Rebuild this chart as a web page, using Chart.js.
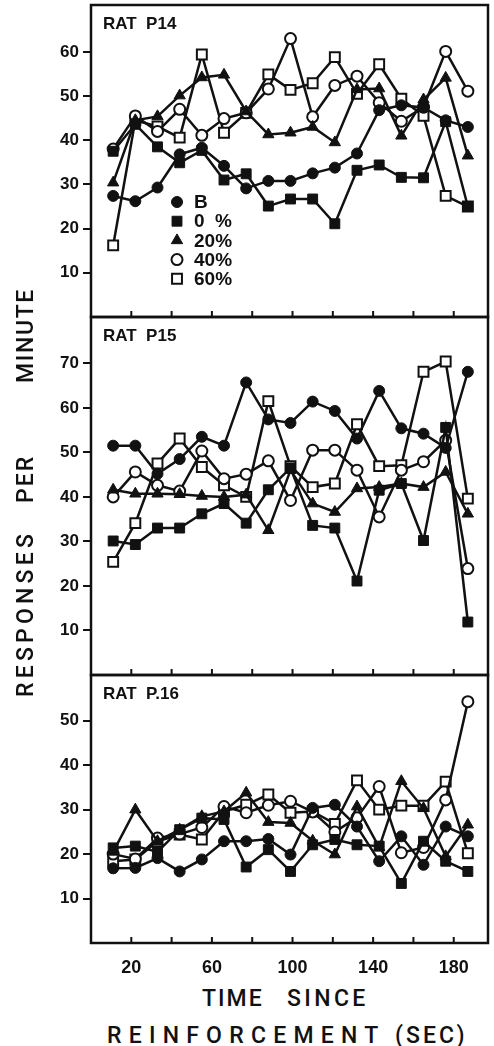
<!DOCTYPE html>
<html>
<head>
<meta charset="utf-8">
<script src="https://cdn.jsdelivr.net/npm/chart.js@4.4.1/dist/chart.umd.min.js"></script>
<style>
  html, body { margin:0; padding:0; background:#fff; }
  #wrap { position:relative; width:494px; height:1046px; overflow:hidden; }
  canvas { position:absolute; left:0; }
  .t { position:absolute; font-family:Roboto, "Liberation Sans", sans-serif; font-weight:500;
       font-size:23px; line-height:30px; color:#111; white-space:pre; }
  #ytitle { position:absolute; left:-204px; top:477px; width:460px; height:30px; transform:rotate(-90deg); }
</style>
</head>
<body>
<div id="wrap">
  <canvas id="p14" width="494" height="322" style="top:0px"></canvas>
  <canvas id="p15" width="494" height="368" style="top:312px"></canvas>
  <canvas id="p16" width="494" height="310" style="top:670px"></canvas>

  <div id="ytitle">
    <span class="t fit" data-w="167" style="left:25px;top:0">RESPONSES</span>
    <span class="t fit" data-w="48" style="left:219px;top:0">PER</span>
    <span class="t fit" data-w="95" style="left:339px;top:0">MINUTE</span>
  </div>
  <span class="t fit" data-w="62" style="left:202px;top:984px">TIME</span>
  <span class="t fit" data-w="82" style="left:287px;top:984px">SINCE</span>
  <span class="t fit" data-w="278" style="left:107px;top:1021px">REINFORCEMENT</span>
  <span class="t fit" data-w="73" style="left:395px;top:1021px">(SEC)</span>
</div>

<script>
/* ---------------------------
   Data
   --------------------------- */
const xSeconds = [11, 22, 33, 44, 55, 66, 77, 88, 99, 110, 121, 132, 143, 154, 165, 176, 187];
const legendLabels = ['B', '0  %', '20%', '40%', '60%'];

const xTickMarks = [20, 40, 60, 80, 100, 120, 140, 160, 180];
const xTickLabels = [20, 60, 100, 140, 180];
const p14Ticks = [10, 20, 30, 40, 50, 60];
const p15Ticks = [10, 20, 30, 40, 50, 60, 70];
const p16Ticks = [10, 20, 30, 40, 50];

// RAT P14
const p14B      = [27.4, 26.2, 29.3, 36.8, 38.3, 34.2, 29.1, 30.8, 30.8, 32.5, 33.8, 37.0, 46.8, 47.9, 47.4, 44.5, 43.0];
const p14Zero   = [37.5, 43.6, 38.5, 34.9, 37.7, 31.0, 32.4, 25.1, 26.7, 26.7, 21.1, 33.2, 34.4, 31.6, 31.5, 44.2, 25.0];
const p14Twenty = [30.4, 44.5, 45.4, 50.1, 54.2, 54.8, 46.5, 41.3, 41.7, 43.0, 39.5, 51.5, 51.7, 41.0, 49.2, 54.1, 36.5];
const p14Forty  = [38.0, 45.5, 42.0, 47.0, 41.1, 44.9, 46.2, 51.6, 63.0, 45.3, 52.4, 54.5, 48.5, 44.3, 47.5, 60.1, 51.1];
const p14Sixty  = [16.2, 44.5, 43.1, 40.6, 59.4, 41.7, 46.2, 54.9, 51.4, 52.9, 58.8, 50.5, 57.2, 49.4, 45.5, 27.4, 25.0];

// RAT P15
const p15B      = [51.5, 51.5, 45.2, 48.5, 53.5, 51.5, 65.7, 57.4, 56.6, 61.4, 59.3, 53.1, 63.8, 55.4, 54.2, 51.0, 68.1];
const p15Zero   = [30.1, 29.3, 33.0, 33.0, 36.2, 38.5, 34.1, 41.6, 46.5, 33.6, 33.0, 21.1, 41.5, 43.0, 30.2, 55.6, 11.9];
const p15Twenty = [41.6, 40.7, 40.7, 40.6, 40.2, 40.0, 40.5, 32.5, 46.0, 38.5, 36.6, 41.9, 42.2, 43.0, 42.2, 45.6, 36.2];
const p15Forty  = [40.0, 45.6, 42.6, 41.3, 50.3, 44.1, 45.1, 48.1, 39.2, 50.5, 50.5, 46.0, 35.5, 46.0, 47.9, 52.7, 23.9];
const p15Sixty  = [25.4, 34.1, 47.5, 53.1, 46.7, 42.6, 40.0, 61.5, 46.9, 42.2, 43.0, 56.3, 46.9, 47.1, 68.1, 70.4, 39.6];

// RAT P.16
const p16B      = [16.8, 16.9, 19.1, 16.1, 18.8, 22.9, 22.9, 23.4, 19.9, 30.4, 31.1, 26.2, 18.4, 24.0, 17.6, 26.2, 24.0];
const p16Zero   = [21.4, 21.8, 20.5, 25.5, 28.1, 27.8, 17.1, 21.0, 16.1, 22.1, 23.3, 22.1, 21.8, 13.4, 22.9, 18.4, 16.1];
const p16Twenty = [20.5, 30.0, 22.9, 25.5, 28.5, 29.6, 33.8, 27.2, 27.0, 23.0, 19.9, 30.7, 21.5, 36.4, 30.3, 19.5, 26.6];
const p16Forty  = [20.0, 18.9, 23.6, 24.5, 26.0, 30.7, 29.3, 31.0, 31.9, 29.5, 25.0, 28.2, 35.2, 20.3, 21.5, 32.2, 54.3];
const p16Sixty  = [18.4, 18.8, 22.9, 24.4, 23.3, 29.6, 31.1, 33.4, 29.3, 29.6, 26.8, 36.6, 30.0, 30.9, 30.9, 36.3, 20.2];

/* ---------------------------
   Styles
   --------------------------- */
const INK = '#111';
const markers = [
  { pointStyle:'circle',   radius:5.5, fill:INK,    border:1 },
  { pointStyle:'rect',     radius:7,   fill:INK,    border:1 },
  { pointStyle:'triangle', radius:6.5, fill:INK,    border:1 },
  { pointStyle:'circle',   radius:5.5, fill:'#fff', border:2 },
  { pointStyle:'rect',     radius:7,   fill:'#fff', border:2 }
];
const tickFont = { family:'"Liberation Sans", Arial, sans-serif', weight:'bold', size:17 };

function toPoints(vals){ return xSeconds.map((x,i)=> ({ x, y: vals[i] })); }

/* frame, inner x tick marks, panel label, legend */
const framePlugin = {
  id:'frame',
  afterDraw(chart, args, opts){
    const { ctx, chartArea:a } = chart;
    const xs = chart.scales.x;
    ctx.save();
    ctx.strokeStyle = INK;
    ctx.lineWidth = 2.5;
    ctx.strokeRect(a.left, a.top, a.right - a.left, a.bottom - a.top);
    ctx.lineWidth = 2;
    ctx.beginPath();
    xTickMarks.forEach(v => {
      const px = xs.getPixelForValue(v);
      ctx.moveTo(px, a.bottom);
      ctx.lineTo(px, a.bottom - 6);
    });
    ctx.stroke();

    ctx.fillStyle = INK;
    ctx.textBaseline = 'middle';
    ctx.font = 'bold 17px "Liberation Sans", Arial, sans-serif';
    ctx.fillText(opts.label, a.left + 12, a.top + 19);

    if (opts.legend) {
      ctx.font = 'bold 19px "Liberation Sans", Arial, sans-serif';
      legendLabels.forEach((lbl, i) => {
        const m = markers[i];
        const y = a.top + 197 + i * 19.2;
        const x = a.left + 86;
        ctx.fillStyle = m.fill;
        ctx.strokeStyle = INK;
        ctx.lineWidth = m.border;
        Chart.helpers.drawPoint(ctx, { pointStyle:m.pointStyle, radius:m.radius, rotation:0, borderWidth:m.border }, x, y);
        ctx.fillStyle = INK;
        ctx.fillText(lbl, a.left + 103, y + 1);
      });
    }
    ctx.restore();
  }
};

function noPad(s){ s.paddingTop = 0; s.paddingBottom = 0; s.paddingLeft = 0; s.paddingRight = 0; }

function makePanel(id, label, series, yMax, yTicks, opts){
  const datasets = series.map((vals, i) => ({
    label: legendLabels[i],
    data: toPoints(vals),
    borderColor: INK,
    borderWidth: 2.5,
    tension: 0,
    pointStyle: markers[i].pointStyle,
    pointRadius: markers[i].radius,
    pointBackgroundColor: markers[i].fill,
    pointBorderColor: INK,
    pointBorderWidth: markers[i].border,
    clip: false
  }));
  return new Chart(document.getElementById(id), {
    type:'line',
    data:{ datasets },
    plugins:[framePlugin],
    options:{
      responsive:false,
      animation:false,
      events:[],
      layout:{ autoPadding:false, padding:{ left:0, right:6, top:5, bottom: opts.bottomPad } },
      plugins:{
        legend:{ display:false },
        tooltip:{ enabled:false },
        frame:{ label, legend: !!opts.legend }
      },
      scales:{
        x:{
          type:'linear', min:0, max:197,
          display: !!opts.showX,
          grid:{ display:false },
          border:{ display:false },
          afterBuildTicks: s => { s.ticks = xTickLabels.map(v => ({ value:v })); },
          afterFit: s => { s.height = opts.showX ? 37 : 0; noPad(s); },
          ticks:{ color:INK, font:{ ...tickFont, size:18 }, padding:6, maxRotation:0, autoSkip:false }
        },
        y:{
          min:0, max:yMax,
          grid:{ drawOnChartArea:false, tickLength:8, color:INK, lineWidth:2 },
          border:{ display:false },
          afterBuildTicks: s => { s.ticks = yTicks.map(v => ({ value:v })); },
          afterFit: s => { s.width = 91; noPad(s); },
          ticks:{ color:INK, font:tickFont, padding:4 }
        }
      }
    }
  });
}

makePanel('p14', 'RAT  P14', [p14B, p14Zero, p14Twenty, p14Forty, p14Sixty], 70.6, p14Ticks, { bottomPad:5, legend:true });
makePanel('p15', 'RAT  P15', [p15B, p15Zero, p15Twenty, p15Forty, p15Sixty], 80.4, p15Ticks, { bottomPad:5 });
makePanel('p16', 'RAT  P.16', [p16B, p16Zero, p16Twenty, p16Forty, p16Sixty], 60.3, p16Ticks, { bottomPad:0, showX:true });

/* stretch axis titles to their measured widths */
function fitTitles(){
  document.querySelectorAll('.fit').forEach(el => {
    el.style.letterSpacing = '0px';
    const target = +el.dataset.w;
    const n = el.textContent.length;
    const w0 = el.offsetWidth;
    el.style.letterSpacing = ((target - w0) / n) + 'px';
  });
}
fitTitles();
if (document.fonts && document.fonts.ready) document.fonts.ready.then(fitTitles);
</script>
</body>
</html>
